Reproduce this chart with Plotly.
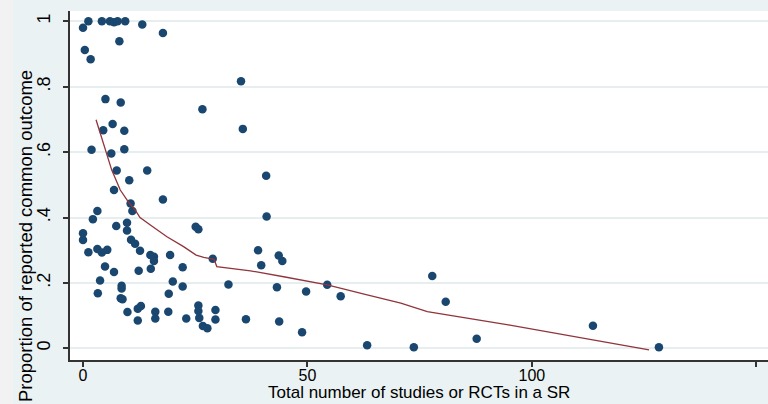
import plotly.graph_objects as go

# Scatter data: total number of studies/RCTs in a SR vs proportion reporting common outcome
n_studies = [0, 1.2, 4.2, 6.0, 6.9, 7.7, 9.4, 13.2, 17.8, 8.1, 0.4, 1.7, 5.0, 8.4, 35.2, 26.6, 35.6,
             6.6, 4.5, 9.2, 1.9, 6.3, 9.2, 7.5, 14.3, 10.3, 6.9, 17.8, 10.6, 11.0, 3.2, 2.2, 9.8, 7.4,
             9.8, 0, 0, 25.1, 25.7, 40.8, 40.9, 10.7, 11.6, 1.2, 3.2, 4.2, 5.4, 12.7, 15.0, 15.8, 15.8,
             19.4, 4.9, 6.9, 12.4, 15.1, 22.2, 3.8, 8.6, 8.6, 3.3, 8.4, 8.8, 20.0, 22.2, 19.1, 9.9,
             12.2, 12.9, 12.2, 16.1, 16.1, 19.0, 23.0, 25.7, 25.7, 25.9, 26.7, 27.7, 29.5, 29.5, 36.3,
             43.7, 48.8, 32.4, 43.2, 49.7, 28.9, 39.0, 43.6, 44.4, 39.7, 54.4, 57.4, 63.3, 73.7, 77.8,
             80.8, 87.7, 113.6, 128.3]
proportion = [0.98, 1.0, 1.0, 1.0, 0.997, 1.0, 1.0, 0.99, 0.964, 0.939, 0.912, 0.884, 0.762, 0.752,
              0.817, 0.731, 0.671, 0.686, 0.667, 0.665, 0.607, 0.596, 0.609, 0.544, 0.544, 0.514, 0.484,
              0.455, 0.443, 0.42, 0.42, 0.395, 0.384, 0.374, 0.36, 0.352, 0.331, 0.372, 0.364, 0.528,
              0.403, 0.332, 0.32, 0.294, 0.304, 0.293, 0.301, 0.298, 0.285, 0.28, 0.267, 0.285, 0.25,
              0.233, 0.237, 0.243, 0.248, 0.207, 0.191, 0.183, 0.168, 0.153, 0.150, 0.204, 0.189, 0.167,
              0.111, 0.121, 0.129, 0.085, 0.112, 0.091, 0.112, 0.091, 0.131, 0.114, 0.093, 0.068, 0.061,
              0.117, 0.088, 0.089, 0.082, 0.049, 0.195, 0.187, 0.174, 0.274, 0.300, 0.284, 0.267, 0.254,
              0.194, 0.159, 0.009, 0.003, 0.221, 0.142, 0.029, 0.069, 0.003]

# Smoothed fit line
fit_x = [2.9, 3.6, 4.9, 6.4, 8.3, 9.0, 10.1, 11.6, 12.7, 15.0, 18.7, 22.4, 25.2, 26.9, 29.2, 29.8,
         37.3, 45.0, 54.4, 63.3, 70.8, 76.7, 95.1, 126.1]
fit_y = [0.699, 0.667, 0.606, 0.545, 0.484, 0.469, 0.448, 0.423, 0.400, 0.377, 0.341, 0.311, 0.285,
         0.278, 0.272, 0.250, 0.237, 0.218, 0.194, 0.163, 0.138, 0.112, 0.071, -0.005]

y_tickvals = [0, 0.2, 0.4, 0.6, 0.8, 1]
y_ticktext = ["0", ".2", ".4", ".6", ".8", "1"]
x_tickvals = [0, 50, 100, 150]
x_ticktext = ["0", "50", "100", "150"]

FONT = "Liberation Sans, Arial, sans-serif"

fig = go.Figure()
fig.add_trace(go.Scatter(
    x=n_studies, y=proportion, mode="markers",
    marker=dict(color="#1a476f", size=8.5, line=dict(width=0)),
    showlegend=False, cliponaxis=False))
fig.add_trace(go.Scatter(
    x=fit_x, y=fit_y, mode="lines",
    line=dict(color="#90353b", width=1.3),
    showlegend=False))

fig.update_layout(
    width=768, height=404,
    margin=dict(l=70, r=0, t=11, b=44, autoexpand=False),
    paper_bgcolor="#eaf2f3",
    plot_bgcolor="#ffffff",
    font=dict(family=FONT, color="#000000", size=18),
    xaxis=dict(
        range=[-2.9, 152.6], tickvals=x_tickvals, ticktext=x_ticktext,
        showgrid=False, zeroline=False, automargin=False,
        showline=True, linecolor="#333333", linewidth=1.5,
        ticks="outside", ticklen=5, tickcolor="#333333", tickwidth=1.5,
        tickfont=dict(size=16, family=FONT), ticklabelstandoff=-5,
    ),
    yaxis=dict(
        range=[-0.0358, 1.0315], tickvals=y_tickvals, ticktext=y_ticktext,
        showgrid=True, gridcolor="#e6eef0", gridwidth=1.5, zeroline=False, automargin=False,
        showline=True, linecolor="#333333", linewidth=1.5,
        ticks="outside", ticklen=5, tickcolor="#333333", tickwidth=1.5,
        tickangle=-90, tickfont=dict(size=18, family=FONT),
        ticklabelstandoff=6,
    ),
    shapes=[dict(type="rect", xref="paper", yref="paper",
                 x0=-70/698, x1=-57/698, y0=-44/349, y1=1 + 11/349,
                 fillcolor="#f2f2f2", line=dict(width=0), layer="below")],
    annotations=[
        dict(text="Total number of studies or RCTs in a SR", xref="paper", yref="paper",
             x=(419 - 70) / 698, y=-(404 - 360) / 349, xanchor="center", yanchor="bottom",
             showarrow=False, font=dict(size=17, family=FONT)),
        dict(text="Proportion of reported common outcome", xref="paper", yref="paper",
             x=-(70 - 25) / 698, y=(360 - 236) / 349, xanchor="center", yanchor="middle",
             textangle=-90, showarrow=False, font=dict(size=18.5, family=FONT)),
    ],
)

fig.write_html(
    "out.html",
    config={"displayModeBar": False},
    post_script="document.body.style.margin='0';document.body.style.padding='0';"
                "document.body.style.overflow='hidden';",
)
